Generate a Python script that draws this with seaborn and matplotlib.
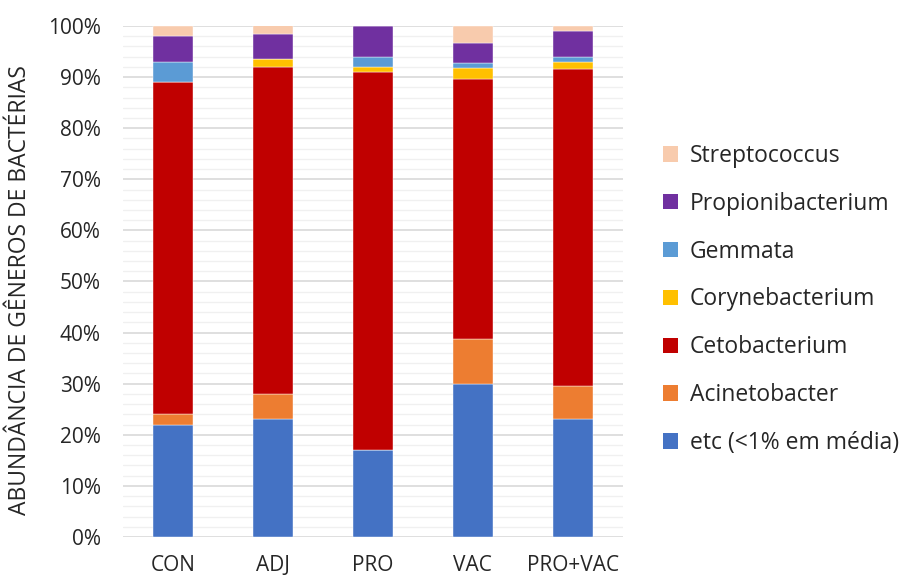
import numpy as np
import pandas as pd
import matplotlib
matplotlib.use("Agg")
import matplotlib.pyplot as plt
import seaborn as sns
from matplotlib.ticker import MultipleLocator, PercentFormatter
from matplotlib.patches import Patch

groups = ["CON", "ADJ", "PRO", "VAC", "PRO+VAC"]

etc_vals = [22.0, 23.0, 17.0, 30.0, 23.0]
acinetobacter = [2.0, 5.0, 0.0, 8.7, 6.5]
cetobacterium = [65.0, 64.0, 74.0, 51.0, 62.0]
corynebacterium = [0.0, 1.5, 1.0, 2.0, 1.5]
gemmata = [4.0, 0.0, 2.0, 1.0, 1.0]
propionibacterium = [5.0, 5.0, 6.0, 4.0, 5.0]
streptococcus = [2.0, 1.6, 0.2, 3.2, 1.0]

series_names = ["etc (<1% em média)", "Acinetobacter", "Cetobacterium",
                "Corynebacterium", "Gemmata", "Propionibacterium", "Streptococcus"]
series_values = [etc_vals, acinetobacter, cetobacterium, corynebacterium,
                 gemmata, propionibacterium, streptococcus]
colors = ["#4472C4", "#ED7D31", "#C00000", "#FFC000", "#5B9BD5", "#7030A0", "#F8CBAD"]

df = pd.DataFrame({"group": groups})
for name, vals in zip(series_names, series_values):
    df[name] = vals

sns.set_style("white")
plt.rcParams["font.family"] = ["Open Sans", "DejaVu Sans"]

fig = plt.figure(figsize=(9.04, 5.77), dpi=100)
ax = fig.add_axes([0.136, 0.0693, 0.553, 0.8857])

bottom = np.zeros(len(groups))
for name, color in zip(series_names, colors):
    sns.barplot(data=df, x="group", y=name, color=color, width=0.4,
                bottom=bottom.copy(), ax=ax, saturation=1,
                edgecolor="white", linewidth=0.3, zorder=3)
    bottom += df[name].to_numpy()

ax.set_ylim(0, 100)
ax.set_xlim(-0.5, len(groups) - 0.5)
ax.yaxis.set_major_locator(MultipleLocator(10))
ax.yaxis.set_minor_locator(MultipleLocator(2))
ax.yaxis.set_major_formatter(PercentFormatter(decimals=0))
ax.grid(axis="y", which="major", color="#d9d9d9", linewidth=1.2, zorder=0)
ax.grid(axis="y", which="minor", color="#f0f0f0", linewidth=1.0, zorder=0)
ax.set_axisbelow(True)
for s in ax.spines.values():
    s.set_visible(False)
ax.tick_params(axis="both", which="both", length=0, labelsize=15, colors="#262626")
ax.tick_params(axis="x", pad=13)
ax.tick_params(axis="y", pad=16)
ax.set_xlabel("")
ax.set_ylabel("ABUNDÂNCIA DE GÊNEROS DE BACTÉRIAS", fontsize=16.5, color="#262626")
ax.yaxis.set_label_coords(-0.182, 0.483)

handles = [Patch(facecolor=c, edgecolor="none", label=n)
           for n, c in zip(series_names, colors)][::-1]
fig.legend(handles=handles, loc="center left", bbox_to_anchor=(0.711, 0.481),
           frameon=False, fontsize=16.5, handlelength=0.65, handleheight=0.65,
           handletextpad=0.5, labelspacing=1.04, labelcolor="#262626")

fig.savefig("out.png", dpi=100)
